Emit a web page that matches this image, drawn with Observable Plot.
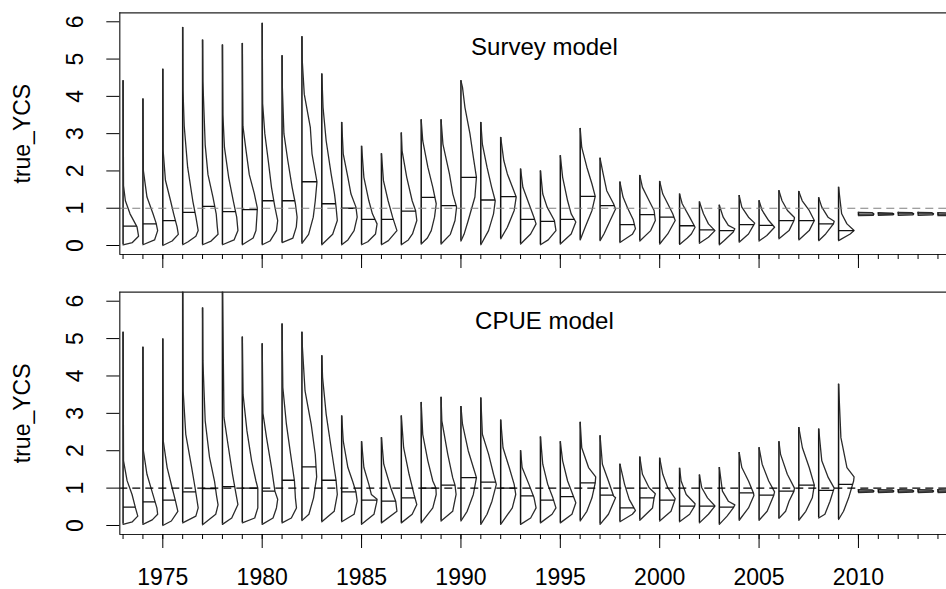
<!DOCTYPE html>
<html>
<head>
<meta charset="utf-8">
<script src="https://cdn.jsdelivr.net/npm/d3@7"></script>
<script src="https://cdn.jsdelivr.net/npm/@observablehq/plot@0.6"></script>
<style>
  body { margin: 0; background: #fff; }
  #chart { width: 946px; height: 589px; overflow: hidden; font-family: "Liberation Sans", Arial, sans-serif; }
  #chart svg { display: block; }
</style>
</head>
<body>
<div id="chart"></div>
<script>
// Year classes
const years = [1973, 1974, 1975, 1976, 1977, 1978, 1979, 1980, 1981, 1982,
  1983, 1984, 1985, 1986, 1987, 1988, 1989, 1990, 1991, 1992,
  1993, 1994, 1995, 1996, 1997, 1998, 1999, 2000, 2001, 2002,
  2003, 2004, 2005, 2006, 2007, 2008, 2009, 2010, 2011, 2012, 2013, 2014];
const majorYears = [1975, 1980, 1985, 1990, 1995, 2000, 2005, 2010];
const yTicks = [0, 1, 2, 3, 4, 5, 6];

// ---- Survey model: posterior of true_YCS per year ----
const surveyLo = [0.02, 0.02, 0.00, 0.02, 0.02, 0.02, 0.02, 0.02, 0.08, 0.06,
  0.02, 0.02, 0.02, 0.02, 0.02, 0.04, 0.04, 0.12, 0.02, 0.18,
  0.04, 0.02, 0.04, 0.15, 0.13, 0.08, 0.12, 0.04, 0.03, 0.06,
  0.02, 0.09, 0.12, 0.18, 0.15, 0.13, 0.13, 0.80, 0.81, 0.81, 0.81, 0.80];
const surveyHi = [4.42, 3.93, 4.73, 5.85, 5.51, 5.38, 5.42, 5.96, 5.09, 5.60,
  4.60, 3.30, 2.66, 2.46, 3.02, 3.37, 3.37, 4.42, 3.30, 2.90,
  2.05, 2.00, 2.41, 3.14, 2.34, 1.70, 1.88, 1.72, 1.38, 1.17,
  1.08, 1.34, 1.20, 1.47, 1.45, 1.28, 1.56, 0.89, 0.88, 0.89, 0.89, 0.88];
const surveyMid = [0.52, 0.58, 0.67, 0.89, 1.05, 0.91, 0.96, 1.20, 1.20, 1.71,
  1.12, 1.00, 0.70, 0.70, 0.92, 1.29, 1.07, 1.83, 1.22, 1.31,
  0.70, 0.65, 0.70, 1.32, 1.07, 0.56, 0.83, 0.76, 0.53, 0.42,
  0.40, 0.56, 0.54, 0.67, 0.67, 0.58, 0.40, 0.84, 0.845, 0.85, 0.85, 0.84];
// density outline between min and max: [value, relative width]
const surveyShape = [
  [[0.08, 0.6], [0.25, 1.0], [0.5, 0.9], [0.85, 0.45], [1.2, 0.15], [1.6, 0.03]],
  [[0.15, 0.75], [0.4, 0.95], [0.6, 0.85], [0.85, 0.65], [1.3, 0.26], [2.0, 0.03]],
  [[0.12, 0.6], [0.3, 1.0], [0.5, 0.92], [0.85, 0.7], [1.2, 0.5], [1.75, 0.17], [2.55, 0.02]],
  [[0.1, 0.35], [0.25, 0.85], [0.4, 1.0], [0.75, 0.86], [1.2, 0.65], [2.1, 0.32], [3.2, 0.1], [4.15, 0.02]],
  [[0.12, 0.55], [0.3, 1.0], [0.5, 0.95], [0.85, 0.88], [1.3, 0.67], [1.9, 0.35], [2.7, 0.17], [4.4, 0.02]],
  [[0.15, 0.75], [0.4, 1.0], [0.76, 0.92], [1.2, 0.7], [1.83, 0.4], [2.63, 0.13], [3.5, 0.03]],
  [[0.2, 0.7], [0.4, 0.88], [0.85, 0.95], [1.0, 0.97], [1.4, 0.77], [1.9, 0.45], [2.55, 0.24], [3.2, 0.04]],
  [[0.12, 0.5], [0.4, 0.92], [0.67, 1.0], [1.03, 0.82], [1.56, 0.6], [2.28, 0.39], [3.0, 0.17], [3.8, 0.03]],
  [[0.2, 0.7], [0.5, 0.92], [0.76, 0.97], [1.12, 0.86], [1.56, 0.65], [2.28, 0.37], [3.0, 0.12], [4.24, 0.02]],
  [[0.3, 0.43], [0.76, 0.73], [1.2, 0.86], [1.71, 0.97], [2.46, 0.65], [3.17, 0.54], [4.06, 0.15], [4.96, 0.02]],
  [[0.3, 0.7], [0.67, 1.0], [1.03, 0.92], [1.38, 0.82], [1.92, 0.6], [2.81, 0.28], [3.7, 0.08]],
  [[0.15, 0.4], [0.4, 0.8], [0.76, 1.0], [1.03, 0.92], [1.38, 0.6], [1.83, 0.4], [2.46, 0.1]],
  [[0.1, 0.4], [0.31, 0.9], [0.58, 1.0], [0.85, 0.7], [1.2, 0.47], [1.83, 0.15]],
  [[0.13, 0.45], [0.4, 1.0], [0.76, 0.72], [1.2, 0.43], [1.74, 0.13]],
  [[0.15, 0.45], [0.31, 0.72], [0.67, 1.0], [0.94, 0.92], [1.2, 0.7], [1.83, 0.35], [2.54, 0.05]],
  [[0.2, 0.4], [0.4, 0.65], [0.76, 0.86], [1.12, 0.97], [1.56, 0.75], [2.1, 0.43], [2.81, 0.1]],
  [[0.3, 0.6], [0.67, 0.9], [1.03, 1.0], [1.38, 0.76], [1.92, 0.54], [2.72, 0.12]],
  [[0.3, 0.2], [0.67, 0.47], [1.3, 0.9], [1.83, 1.0], [2.37, 0.8], [3.0, 0.58], [3.7, 0.26], [4.24, 0.1]],
  [[0.4, 0.5], [0.85, 0.82], [1.2, 0.93], [1.56, 0.7], [2.1, 0.4], [2.72, 0.1]],
  [[0.49, 0.43], [0.94, 0.87], [1.3, 1.0], [1.56, 0.76], [1.92, 0.43], [2.28, 0.2]],
  [[0.31, 0.65], [0.58, 1.0], [0.76, 0.86], [1.12, 0.54], [1.56, 0.15]],
  [[0.15, 0.5], [0.4, 1.0], [0.67, 0.9], [1.03, 0.43], [1.38, 0.15]],
  [[0.31, 0.7], [0.63, 1.0], [0.85, 0.7], [1.2, 0.47], [1.83, 0.15]],
  [[0.49, 0.32], [0.94, 0.76], [1.32, 0.97], [1.65, 0.76], [2.1, 0.43], [2.63, 0.1]],
  [[0.31, 0.25], [0.67, 0.65], [0.98, 1.0], [1.12, 0.87], [1.47, 0.43], [1.92, 0.2]],
  [[0.3, 0.8], [0.45, 1.0], [0.7, 0.85], [1.0, 0.5], [1.3, 0.2]],
  [[0.4, 0.7], [0.67, 1.0], [0.94, 0.92], [1.2, 0.6], [1.56, 0.17]],
  [[0.31, 0.52], [0.67, 1.0], [0.85, 0.84], [1.12, 0.52], [1.38, 0.2]],
  [[0.2, 0.5], [0.31, 0.76], [0.49, 1.0], [0.76, 0.65], [1.12, 0.17]],
  [[0.22, 0.58], [0.4, 1.0], [0.58, 0.58], [0.85, 0.26]],
  [[0.13, 0.3], [0.36, 0.9], [0.45, 1.0], [0.54, 0.58], [0.76, 0.25]],
  [[0.31, 0.6], [0.54, 0.92], [0.6, 1.0], [0.76, 0.6], [1.03, 0.17]],
  [[0.27, 0.5], [0.49, 1.0], [0.67, 0.62], [0.94, 0.2]],
  [[0.4, 0.65], [0.67, 0.97], [0.75, 1.0], [0.94, 0.55], [1.2, 0.2]],
  [[0.4, 0.67], [0.67, 1.0], [0.94, 0.67], [1.2, 0.22]],
  [[0.31, 0.45], [0.58, 0.95], [0.65, 1.0], [0.76, 0.6], [1.03, 0.2]],
  [[0.31, 0.75], [0.4, 1.0], [0.58, 0.54], [0.85, 0.2]],
  [[0.81, 0.95], [0.845, 1.0], [0.88, 0.9]],
  [[0.82, 0.95], [0.845, 1.0], [0.87, 0.9]],
  [[0.82, 0.95], [0.85, 1.0], [0.88, 0.9]],
  [[0.82, 0.95], [0.85, 1.0], [0.88, 0.9]],
  [[0.81, 0.95], [0.84, 1.0], [0.87, 0.9]]
];

// ---- CPUE model: posterior of true_YCS per year ----
const cpueLo = [0.03, 0.03, 0.00, 0.07, 0.02, 0.03, 0.07, 0.03, 0.07, 0.13,
  0.10, 0.10, 0.03, 0.07, 0.07, 0.07, 0.12, 0.12, 0.03, 0.03,
  0.03, 0.07, 0.07, 0.12, 0.03, 0.10, 0.14, 0.12, 0.10, 0.07,
  0.03, 0.14, 0.14, 0.19, 0.14, 0.20, 0.16, 0.88, 0.88, 0.88, 0.88, 0.88];
const cpueHi = [5.17, 4.77, 4.99, 6.60, 5.82, 6.60, 5.04, 4.86, 5.39, 5.17,
  4.54, 2.93, 2.24, 2.35, 2.93, 3.29, 3.43, 3.18, 3.41, 2.82,
  2.00, 2.37, 2.24, 2.76, 2.40, 1.64, 1.83, 1.80, 1.53, 1.35,
  1.55, 1.95, 2.08, 2.24, 2.62, 2.58, 3.78, 0.96, 0.96, 0.96, 0.96, 0.96];
const cpueMid = [0.49, 0.63, 0.68, 0.90, 0.99, 1.04, 1.00, 0.92, 1.21, 1.57,
  1.21, 0.90, 0.68, 0.65, 0.74, 1.00, 1.08, 1.28, 1.16, 1.00,
  0.79, 0.68, 0.77, 1.14, 0.81, 0.47, 0.74, 0.68, 0.52, 0.52,
  0.49, 0.87, 0.81, 0.92, 1.08, 0.94, 1.10, 0.92, 0.92, 0.92, 0.92, 0.92];
const cpueShape = [
  [[0.1, 0.6], [0.25, 0.95], [0.47, 0.8], [0.83, 0.58], [1.2, 0.26], [1.73, 0.03]],
  [[0.15, 0.6], [0.3, 0.95], [0.47, 0.9], [0.92, 0.58], [1.37, 0.26], [2.0, 0.03]],
  [[0.12, 0.55], [0.38, 0.97], [0.65, 0.82], [1.01, 0.6], [1.55, 0.28], [2.26, 0.03]],
  [[0.25, 0.85], [0.47, 1.0], [1.01, 0.8], [1.55, 0.58], [2.44, 0.2], [3.6, 0.03]],
  [[0.3, 0.85], [0.55, 1.0], [0.8, 0.9], [1.19, 0.77], [1.82, 0.45], [2.8, 0.17], [4.41, 0.02]],
  [[0.2, 0.6], [0.56, 1.0], [0.83, 0.88], [1.37, 0.65], [2.08, 0.39], [2.89, 0.1]],
  [[0.2, 0.8], [0.47, 1.0], [1.0, 1.0], [1.19, 0.88], [1.73, 0.6], [2.53, 0.3], [3.5, 0.05]],
  [[0.2, 0.7], [0.47, 0.92], [0.7, 1.0], [0.92, 0.82], [1.55, 0.6], [2.35, 0.28], [3.0, 0.05]],
  [[0.2, 0.6], [0.47, 0.93], [0.74, 0.86], [1.19, 0.8], [1.91, 0.55], [2.71, 0.28], [3.69, 0.05]],
  [[0.3, 0.45], [0.74, 0.75], [1.3, 0.95], [1.9, 0.86], [2.7, 0.6], [3.6, 0.2], [4.77, 0.03]],
  [[0.38, 0.8], [0.83, 1.0], [1.21, 0.92], [2.08, 0.6], [2.98, 0.28], [3.96, 0.05]],
  [[0.3, 0.8], [0.65, 1.0], [0.9, 0.92], [1.19, 0.7], [1.55, 0.4], [2.26, 0.1]],
  [[0.3, 0.8], [0.61, 0.97], [0.7, 1.0], [0.83, 0.63], [1.1, 0.47], [1.55, 0.15]],
  [[0.38, 1.0], [0.65, 0.92], [1.01, 0.6], [1.64, 0.15]],
  [[0.3, 0.7], [0.56, 1.0], [0.83, 0.82], [1.37, 0.5], [2.08, 0.15]],
  [[0.47, 0.75], [0.83, 0.97], [1.0, 0.95], [1.19, 0.75], [1.73, 0.43], [2.44, 0.1]],
  [[0.38, 0.75], [0.83, 0.97], [1.08, 0.9], [1.28, 0.75], [1.91, 0.43], [2.8, 0.05]],
  [[0.38, 0.4], [0.83, 0.8], [1.28, 1.0], [1.55, 0.8], [2.0, 0.47], [2.71, 0.1]],
  [[0.3, 0.4], [0.65, 0.72], [1.1, 1.0], [1.37, 0.82], [1.91, 0.5], [2.44, 0.1]],
  [[0.47, 0.75], [0.83, 0.97], [1.1, 0.87], [1.55, 0.55], [2.08, 0.15]],
  [[0.2, 0.65], [0.47, 1.0], [0.74, 0.87], [1.1, 0.54], [1.55, 0.1]],
  [[0.3, 0.75], [0.47, 1.0], [0.74, 0.8], [1.1, 0.47], [1.64, 0.15]],
  [[0.3, 0.75], [0.61, 1.0], [0.83, 0.8], [1.19, 0.47], [1.73, 0.15]],
  [[0.38, 0.43], [0.74, 0.76], [1.14, 0.97], [1.3, 1.0], [1.55, 0.54], [2.08, 0.1]],
  [[0.3, 0.54], [0.74, 1.0], [0.79, 0.87], [1.19, 0.54], [1.64, 0.15]],
  [[0.3, 0.8], [0.4, 1.0], [0.7, 0.6], [1.1, 0.3]],
  [[0.47, 0.82], [0.74, 0.92], [0.85, 1.0], [1.01, 0.6], [1.37, 0.17]],
  [[0.38, 0.73], [0.65, 0.95], [0.72, 1.0], [1.01, 0.52], [1.37, 0.2]],
  [[0.3, 0.65], [0.52, 0.97], [0.58, 1.0], [0.83, 0.43], [1.19, 0.1]],
  [[0.3, 0.58], [0.52, 1.0], [0.74, 0.52], [1.01, 0.15]],
  [[0.25, 0.5], [0.47, 0.9], [0.55, 1.0], [0.65, 0.58], [0.92, 0.2]],
  [[0.47, 0.6], [0.8, 0.95], [0.87, 0.92], [1.19, 0.6], [1.55, 0.17]],
  [[0.38, 0.52], [0.81, 0.95], [0.9, 1.0], [1.19, 0.62], [1.64, 0.2]],
  [[0.38, 0.43], [0.65, 0.65], [0.92, 0.97], [1.0, 1.0], [1.37, 0.54], [1.91, 0.1]],
  [[0.38, 0.45], [0.74, 0.87], [1.08, 1.0], [1.55, 0.67], [2.08, 0.23]],
  [[0.3, 0.4], [0.65, 0.73], [0.94, 0.95], [1.0, 1.0], [1.28, 0.62], [1.73, 0.2]],
  [[0.38, 0.32], [0.74, 0.65], [1.19, 0.97], [1.3, 1.0], [1.55, 0.54], [2.35, 0.15]],
  [[0.89, 0.95], [0.92, 1.0], [0.95, 0.9]],
  [[0.89, 0.95], [0.92, 1.0], [0.95, 0.9]],
  [[0.89, 0.95], [0.92, 1.0], [0.95, 0.9]],
  [[0.89, 0.95], [0.92, 1.0], [0.95, 0.9]],
  [[0.89, 0.95], [0.92, 1.0], [0.95, 0.9]]
];

const FONT = "'Liberation Sans', Arial, sans-serif";
const HALF = 0.78;                    // half-violin width, in years
const xDomain = [1972.836, 2014.43];
const yDomain = [-0.241, 6.241];

// width of a year's outline at value v (for the median bar)
function widthAt(knots, v) {
  for (let k = 1; k < knots.length; k++) {
    const [v0, w0] = knots[k - 1], [v1, w1] = knots[k];
    if (v >= v0 && v <= v1) return v1 === v0 ? Math.max(w0, w1) : w0 + (w1 - w0) * (v - v0) / (v1 - v0);
  }
  return 0;
}

function panel({lo, hi, mid, shape, title, titleAt, refColor, height, marginTop, marginBottom, yearLabels}) {
  const knotsByYear = years.map((year, i) => [[lo[i], 0], ...shape[i], [hi[i], 0]]);
  const outline = years.flatMap((year, i) => knotsByYear[i].map(([v, w]) => ({year, v, w})));
  const bars = years.map((year, i) => ({year, v: mid[i], w: widthAt(knotsByYear[i], mid[i])}));
  const spans = years.map((year, i) => ({year, lo: lo[i], hi: hi[i]}));

  return Plot.plot({
    width: 946,
    height,
    marginTop,
    marginBottom,
    marginLeft: 119.3,
    marginRight: 0,
    x: {domain: xDomain},
    y: {domain: yDomain},
    style: {fontFamily: FONT, fontSize: "23px", color: "black", background: "white"},
    marks: [
      // posterior range of each year class
      Plot.ruleX(spans, {x: "year", y1: "lo", y2: "hi", stroke: "#111", strokeWidth: 1.5, clip: true}),
      // half-violin density outline
      Plot.line(outline, {x: d => d.year + d.w * HALF, y: "v", z: "year", stroke: "#2b2b2b", strokeWidth: 1.3, clip: true}),
      // median bar
      Plot.link(bars, {x1: "year", x2: d => d.year + d.w * HALF, y1: "v", y2: "v", stroke: "#111", strokeWidth: 1.3, clip: true}),
      // reference line at YCS = 1
      Plot.ruleY([1], {stroke: refColor, strokeWidth: 1.2, strokeDasharray: "8,5"}),
      // plot box (open to the right)
      Plot.ruleY([yDomain[0], yDomain[1]], {stroke: "#222", strokeWidth: 1.2}),
      Plot.ruleX([xDomain[0]], {stroke: "#222", strokeWidth: 1.2}),
      // axes
      Plot.axisY(yTicks, {anchor: "left", tickSize: 13, tickRotate: -90, tickPadding: 24, fontSize: 23,
        label: "true_YCS", labelAnchor: "center", labelOffset: 106, labelArrow: "none"}),
      Plot.axisX(years, {anchor: "bottom", tickSize: 5, fill: "none", label: null}),
      Plot.axisX(majorYears, {anchor: "bottom", tickSize: 14, tickPadding: 20, fontSize: 23,
        tickFormat: d => `${d}`, fill: yearLabels ? "black" : "none", label: null}),
      // panel title
      Plot.text([title], {x: titleAt[0], y: titleAt[1], text: d => d, fontSize: 24, fill: "black"})
    ]
  });
}

const chart = document.getElementById("chart");
chart.append(panel({
  lo: surveyLo, hi: surveyHi, mid: surveyMid, shape: surveyShape,
  title: "Survey model", titleAt: [1994.2, 5.32], refColor: "#808080",
  height: 280, marginTop: 12.3, marginBottom: 26, yearLabels: false
}));
chart.append(panel({
  lo: cpueLo, hi: cpueHi, mid: cpueMid, shape: cpueShape,
  title: "CPUE model", titleAt: [1994.2, 5.46], refColor: "black",
  height: 309, marginTop: 11.7, marginBottom: 55, yearLabels: true
}));
</script>
</body>
</html>
